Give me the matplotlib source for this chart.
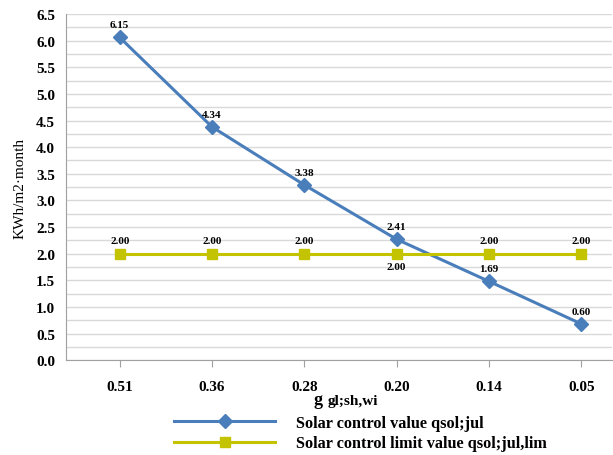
import numpy as np
import matplotlib
matplotlib.use("Agg")
import matplotlib.pyplot as plt
from matplotlib.lines import Line2D

categories = ["0.51", "0.36", "0.28", "0.20", "0.14", "0.05"]
# plotted positions
solar_value = [6.06, 4.38, 3.29, 2.27, 1.48, 0.68]
solar_limit = [2.0, 2.0, 2.0, 2.0, 2.0, 2.0]
# data labels as printed on the chart
solar_value_labels = ["6.15", "4.34", "3.38", "2.41", "1.69", "0.60"]
solar_limit_labels = ["2.00", "2.00", "2.00", "2.00", "2.00", "2.00"]

blue = "#4a7ebb"
yellow = "#c3c300"
plt.rcParams['font.family'] = ['Liberation Serif', 'DejaVu Serif']

fig = plt.figure(figsize=(6.13, 4.56), dpi=100)
ax = fig.add_axes([0.108, 0.208, 0.89, 0.759])

x = np.arange(len(categories))
ax.plot(x, solar_value, color=blue, lw=2.2, marker='D', ms=7, zorder=3)
ax.plot(x, solar_limit, color=yellow, lw=2.2, marker='s', ms=7, zorder=3)

for i, (v, lab) in enumerate(zip(solar_value, solar_value_labels)):
    ax.annotate(lab, (i, v), xytext=(0, 6), textcoords='offset points',
                ha='center', va='bottom', fontsize=8, fontweight='bold')
for i, (v, lab) in enumerate(zip(solar_limit, solar_limit_labels)):
    if i == 3:
        # this one sits under the line in the original
        ax.annotate(lab, (i, v), xytext=(0, -6), textcoords='offset points',
                    ha='center', va='top', fontsize=8, fontweight='bold')
    else:
        ax.annotate(lab, (i, v), xytext=(0, 6), textcoords='offset points',
                    ha='center', va='bottom', fontsize=8, fontweight='bold')

ax.set_ylim(0, 6.5)
ax.set_xlim(-0.58, 5.33)
ax.set_yticks(np.arange(0, 6.51, 0.5))
ax.set_yticklabels([f"{t:.1f}" for t in np.arange(0, 6.51, 0.5)],
                   fontsize=11, fontweight='bold')
ax.set_yticks(np.arange(0, 6.51, 0.25), minor=True)
ax.set_xticks(x)
ax.set_xticklabels(categories, fontsize=11, fontweight='bold')
ax.grid(axis='y', which='both', color='#d9d9d9', lw=1)
ax.set_axisbelow(True)
ax.tick_params(axis='y', which='both', length=0, pad=8)
ax.tick_params(axis='x', length=5, color='#a0a0a0', pad=9)
for s in ['top', 'right']:
    ax.spines[s].set_visible(False)
for s in ['left', 'bottom']:
    ax.spines[s].set_color('#a0a0a0')

ax.set_ylabel("KWh/m2·month", fontsize=11)
ax.yaxis.set_label_coords(-0.072, 0.5)

fig.text(0.511, 0.112, "g", fontsize=13, fontweight='bold', va='baseline')
fig.text(0.535, 0.112, "gl;sh,wi", fontsize=11, fontweight='bold', va='baseline')

handles = [Line2D([], [], color=blue, lw=2.2, marker='D', ms=7),
           Line2D([], [], color=yellow, lw=2.2, marker='s', ms=7)]
fig.legend(handles, ["Solar control value qsol;jul",
                     "Solar control limit value qsol;jul,lim"],
           loc='upper left', bbox_to_anchor=(0.274, 0.103), frameon=False,
           handlelength=6.2, handletextpad=1.3, labelspacing=0.3,
           prop={'size': 11.7, 'weight': 'bold'}, borderaxespad=0)

fig.savefig("out.png", dpi=100)
